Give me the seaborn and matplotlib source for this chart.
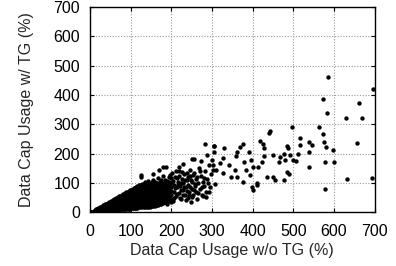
import matplotlib
matplotlib.use("Agg")
import matplotlib.pyplot as plt
import seaborn as sns
import pandas as pd

# Outlying, individually visible points
out_x = [586, 697, 572, 661, 584, 629, 670, 498, 564, 444, 441, 572, 516, 657, 539, 575, 545,
         283, 376, 419, 425, 306, 330, 369, 362, 390, 429, 484, 486, 516, 580, 598, 306, 287,
         252, 274, 428, 449, 467, 477, 479, 492, 500, 507, 512, 538, 360, 328, 319, 343, 380,
         395, 402, 413, 423, 464, 539, 578, 600, 385, 393, 436, 449, 454, 476, 485, 489, 377,
         411, 410, 398, 400, 693, 631, 578, 346, 357, 361, 328, 311, 302, 307, 293, 279,
         125, 154, 170, 180, 187, 218, 230, 255, 305, 126]
out_y = [460, 421, 388, 372, 337, 323, 323, 290, 290, 276, 269, 266, 253, 237, 239, 239, 228,
         234, 234, 243, 234, 225, 218, 222, 205, 205, 218, 225, 221, 228, 223, 211, 206, 195,
         182, 174, 193, 195, 189, 200, 179, 195, 179, 175, 199, 205, 191, 184, 168, 163, 171,
         179, 156, 154, 171, 170, 156, 172, 170, 143, 128, 122, 122, 110, 110, 136, 131, 103,
         101, 92, 85, 78, 117, 113, 79, 122, 143, 122, 133, 145, 143, 97, 69, 55,
         122, 130, 143, 156, 156, 156, 166, 183, 226, 129]

# Dense cloud near the origin, read column by column (estimated)
blob_cols = [3, 6, 9, 12, 15, 18, 21, 24, 27, 30, 33, 36, 39, 42, 45, 48, 51, 54, 57, 60,
             63, 66, 69, 72, 75, 78, 81, 84, 87, 90, 93, 96, 99, 102, 105, 108, 111, 114, 117,
             120, 124, 128, 132, 136, 140, 144, 148, 152, 156, 160, 164, 168, 172, 176, 180,
             185, 190, 195, 200]
blob_vals = [
    [0, 2], [0, 3], [1, 5], [1, 5, 9], [1, 6, 11], [1, 7, 13], [2, 8, 15], [2, 9, 17],
    [2, 10, 19], [2, 11, 20], [3, 12, 21, 25], [3, 12, 21, 27], [3, 12, 21, 29],
    [4, 12, 21, 30], [4, 13, 22, 31], [5, 13, 22, 31, 36], [5, 13, 22, 31, 38],
    [6, 14, 23, 32, 40], [6, 14, 23, 32, 41], [7, 14, 23, 32, 41, 45],
    [7, 14, 23, 32, 41, 48], [8, 15, 24, 33, 42, 50], [8, 15, 24, 33, 42, 51],
    [9, 15, 24, 33, 42, 51, 55], [9, 16, 25, 34, 43, 52, 57], [10, 16, 25, 34, 43, 52, 59],
    [10, 16, 25, 34, 43, 52, 61], [11, 17, 26, 35, 44, 53, 62], [11, 17, 26, 35, 44, 53, 62, 66],
    [12, 17, 26, 35, 44, 53, 62, 68], [12, 18, 27, 36, 45, 54, 63, 70],
    [13, 18, 27, 36, 45, 54, 63, 72], [13, 18, 27, 36, 45, 54, 63, 72, 76],
    [14, 19, 28, 37, 46, 55, 64, 73, 78], [14, 19, 28, 37, 46, 55, 64, 73, 80],
    [15, 19, 28, 37, 46, 55, 64, 73, 82], [15, 20, 29, 38, 47, 56, 65, 74, 83],
    [16, 20, 29, 38, 47, 56, 65, 74, 83, 88], [16, 21, 29, 38, 47, 56, 65, 74, 83, 90],
    [17, 22, 30, 39, 48, 57, 66, 75, 84, 93], [17, 23, 30, 39, 48, 57, 66, 75, 84, 94],
    [18, 24, 31, 40, 49, 58, 67, 76, 85, 96], [18, 25, 31, 40, 49, 58, 67, 76, 85, 98],
    [19, 26, 32, 41, 50, 59, 68, 77, 86, 95, 102], [19, 26, 33, 42, 51, 60, 69, 78, 87, 96],
    [20, 27, 34, 43, 52, 61, 70, 79, 88, 100, 108], [20, 28, 35, 44, 53, 62, 71, 80, 89, 98],
    [21, 28, 36, 45, 54, 63, 72, 81, 90, 104], [22, 29, 38, 47, 56, 65, 74, 83, 92, 112],
    [23, 31, 40, 49, 58, 67, 76, 85, 95, 105], [24, 33, 42, 51, 60, 69, 78, 88, 100],
    [26, 36, 46, 56, 66, 76, 86, 98, 118], [28, 38, 48, 58, 68, 78, 90, 105],
    [30, 40, 52, 62, 72, 84, 96, 110], [33, 44, 55, 66, 77, 88, 100, 125],
    [36, 48, 60, 72, 84, 96, 112], [30, 42, 55, 68, 80, 92, 108],
    [38, 50, 64, 78, 90, 104, 120], [34, 46, 60, 74, 88, 100, 116],
]

# Thinner scatter between 200 and 300 (estimated)
mid_x = [204, 206, 208, 210, 212, 214, 216, 218, 220, 222, 224, 226, 228, 230, 232, 234, 236,
         238, 240, 242, 244, 246, 248, 250, 252, 254, 256, 258, 260, 262, 264, 266, 268, 270,
         272, 275, 278, 280, 282, 285, 288, 290, 292, 295, 298, 300, 302,
         198, 202, 205, 207, 209, 211, 213, 215, 217, 219, 221, 223, 225, 227, 229, 231, 233,
         236, 238, 239, 241, 243, 245, 247, 249, 251, 253, 257, 259, 263, 267, 271, 276, 281,
         286]
mid_y = [40, 70, 95, 120, 55, 85, 105, 140, 65, 90, 45, 115, 75, 100, 130, 60, 85,
         110, 50, 95, 70, 125, 37, 80, 105, 60, 135, 90, 70, 115, 45, 100, 150, 80,
         125, 60, 105, 90, 140, 70, 115, 100, 160, 85, 130, 178, 160,
         128, 135, 108, 50, 82, 140, 118, 62, 95, 125, 48, 78, 100, 138, 58, 88, 110,
         42, 72, 135, 120, 58, 88, 145, 110, 52, 128, 75, 98, 120, 65, 140, 88, 118,
         52]

xs, ys = list(out_x) + list(mid_x), list(out_y) + list(mid_y)
for cx, vals in zip(blob_cols, blob_vals):
    xs += [cx] * len(vals)
    ys += vals
df = pd.DataFrame({"x": xs, "y": ys})

sns.set_style("ticks")
plt.rcParams['font.family'] = ['Liberation Sans', 'DejaVu Sans']

fig = plt.figure(figsize=(3.96, 2.66), dpi=100)
ax = fig.add_axes([0.227, 0.2015, 0.719, 0.7725])
sns.scatterplot(data=df, x="x", y="y", ax=ax, color="black", s=10, linewidth=0, legend=False)

ticks = [0, 100, 200, 300, 400, 500, 600, 700]
ax.set_xlim(0, 700)
ax.set_ylim(0, 700)
ax.set_xticks(ticks)
ax.set_yticks(ticks)
ax.grid(True, color="#999999", linestyle=(0, (1, 1.5)), linewidth=0.8)
ax.set_axisbelow(True)
for sp in ax.spines.values():
    sp.set_visible(True)
    sp.set_color("black")
    sp.set_linewidth(1.0)
ax.tick_params(direction="in", length=3, width=0.8, top=True, right=True,
               labelsize=11.5, colors="black")
ax.tick_params(axis="x", pad=8)
ax.tick_params(axis="y", pad=7)
ax.set_xlabel("Data Cap Usage w/o TG (%)", fontsize=11.5, labelpad=3)
ax.set_ylabel("Data Cap Usage w/ TG (%)", fontsize=11.5, labelpad=14)

fig.savefig("out.png", dpi=100)
